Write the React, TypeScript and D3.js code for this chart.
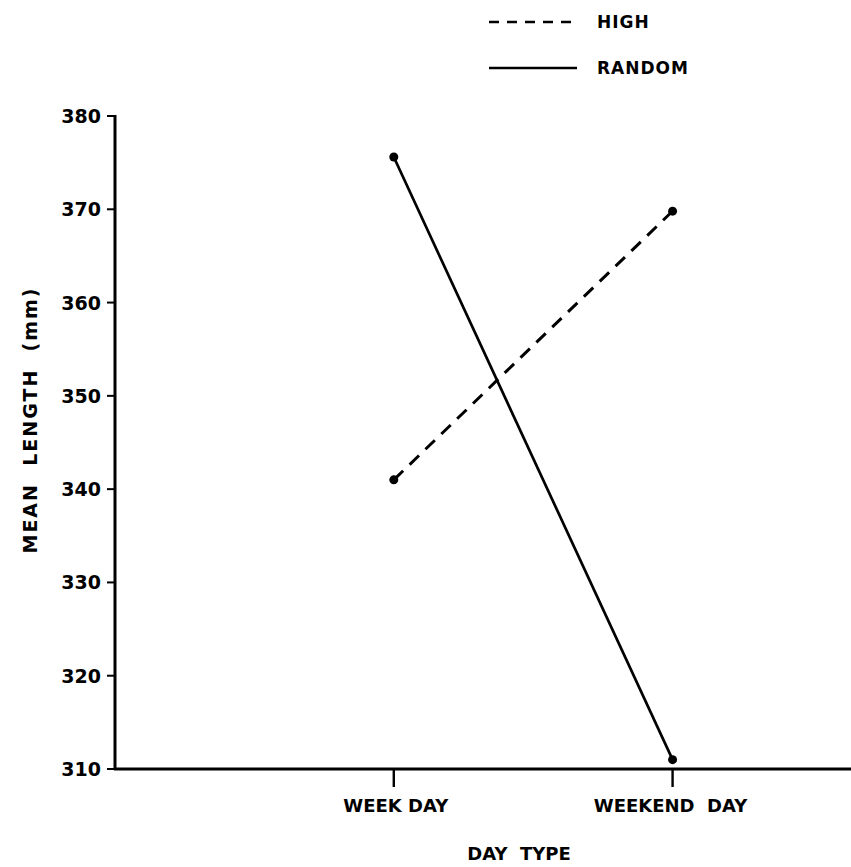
import React from "react";
import * as d3 from "d3";

const categories = ["WEEK DAY", "WEEKEND  DAY"];
const highValues = [341.0, 369.8];
const randomValues = [375.6, 311.0];
const yTicks = [310, 320, 330, 340, 350, 360, 370, 380];
const seriesNames = ["HIGH", "RANDOM"];

const W = 851;
const H = 867;
const FONT = "'DejaVu Sans', 'Liberation Sans', sans-serif";

export default function App() {
  const y = d3.scaleLinear().domain([310, 380]).range([769, 116]);
  const x = d3.scaleLinear().domain([0, 2.64]).range([115, 851]);
  const line = d3
    .line<number>()
    .x((_, i) => x(i + 1))
    .y((d) => y(d));

  const series = [
    { name: seriesNames[0], values: highValues, dash: "13 9", width: 3 },
    { name: seriesNames[1], values: randomValues, dash: "none", width: 2.7 },
  ];

  return (
    <svg
      width={W}
      height={H}
      style={{ position: "absolute", left: 0, top: 0, background: "#fff" }}
      fontFamily={FONT}
    >
      {/* legend */}
      {series.map((s, i) => (
        <g key={s.name} transform={`translate(0, ${22 + i * 46})`}>
          <line
            x1={489}
            x2={577}
            y1={0}
            y2={0}
            stroke="#000"
            strokeWidth={2.6}
            strokeDasharray={i === 0 ? "10 8" : "none"}
          />
          <text x={597} y={6} fontSize={17} fontWeight={700} letterSpacing={1}>
            {s.name}
          </text>
        </g>
      ))}

      {/* y axis */}
      <line x1={x(0)} x2={x(0)} y1={y(380) - 1} y2={y(310)} stroke="#000" strokeWidth={3} />
      {yTicks.map((t) => (
        <g key={t}>
          <line x1={x(0) - 8} x2={x(0)} y1={y(t)} y2={y(t)} stroke="#000" strokeWidth={2} />
          <text x={101} y={y(t) + 7} textAnchor="end" fontSize={19} fontWeight={700}>
            {t}
          </text>
        </g>
      ))}
      <text
        transform={`translate(37, 420) rotate(-90)`}
        textAnchor="middle"
        fontSize={19}
        fontWeight={700}
        letterSpacing={2}
        style={{ whiteSpace: "pre" }}
      >
        {"MEAN  LENGTH  (mm)"}
      </text>

      {/* x axis */}
      <line x1={x(0) - 1} x2={W} y1={y(310)} y2={y(310)} stroke="#000" strokeWidth={3} />
      {categories.map((c, i) => (
        <g key={c}>
          <line x1={x(i + 1)} x2={x(i + 1)} y1={y(310)} y2={y(310) + 18} stroke="#000" strokeWidth={2.4} />
          <text
            x={x(i + 1) + (i === 0 ? 2 : -2)}
            y={812}
            textAnchor="middle"
            fontSize={18}
            fontWeight={700}
            style={{ whiteSpace: "pre" }}
          >
            {c}
          </text>
        </g>
      ))}
      <text x={519} y={860} textAnchor="middle" fontSize={18} fontWeight={700} style={{ whiteSpace: "pre" }}>
        {"DAY  TYPE"}
      </text>

      {/* series */}
      {series.map((s) => (
        <g key={s.name}>
          <path d={line(s.values) ?? ""} fill="none" stroke="#000" strokeWidth={s.width} strokeDasharray={s.dash} />
          {s.values.map((v, i) => (
            <circle key={i} cx={x(i + 1)} cy={y(v)} r={4.5} fill="#000" />
          ))}
        </g>
      ))}
    </svg>
  );
}
